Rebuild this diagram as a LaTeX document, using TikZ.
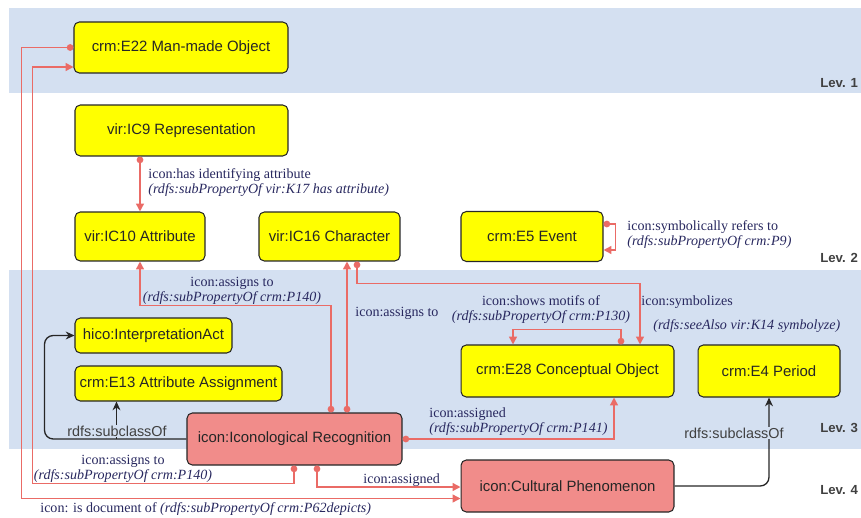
\documentclass[tikz,border=0pt]{standalone}
\usepackage{fontspec}
\setmainfont{Liberation Sans}
\newfontfamily\relfont{Liberation Serif}
\usetikzlibrary{arrows.meta,calc}

\definecolor{bandblue}{RGB}{212,224,241}
\definecolor{relred}{RGB}{234,107,102}
\definecolor{actpink}{RGB}{241,140,138}
\definecolor{clsyellow}{RGB}{255,255,0}
\definecolor{reltext}{RGB}{40,40,95}

\tikzset{
  cls/.style={draw=black!85, fill=clsyellow, rounded corners=3pt, line width=0.6pt,
    font=\fontsize{8.5}{10}\selectfont, text=black!85, inner sep=0pt},
  act/.style={cls, fill=actpink},
  rel/.style={draw=relred, line width=0.85pt,
    {Circle[length=3.8pt]}-{Triangle[length=4.5pt,width=4.5pt]}},
  sub/.style={draw=black!85, line width=0.75pt, rounded corners=5pt,
    -{Stealth[length=5pt,width=4.5pt]}},
  reltxt/.style={font=\relfont\fontsize{8}{8.6}\selectfont, text=reltext, inner sep=0pt},
  subtxt/.style={font=\fontsize{8.2}{9}\selectfont, text=black!75, fill=bandblue, inner sep=0.5pt},
  lev/.style={font=\bfseries\fontsize{7.5}{9}\selectfont, text=black!75, anchor=west, inner sep=0pt}
}

\begin{document}
\begin{tikzpicture}[x=0.02cm, y=-0.02cm]
  \clip (0,0) rectangle (861,517);
  \fill[bandblue] (9,8) rectangle (861,93);
  \fill[bandblue] (9,270) rectangle (861,449);

  \node[lev] (lev1) at (820,83) {Lev. 1};
  \node[lev] (lev2) at (820,258) {Lev. 2};
  \node[lev] (lev3) at (820,428) {Lev. 3};
  \node[lev] (lev4) at (820,490) {Lev. 4};

  \node[cls, minimum width=4.28cm, minimum height=1.02cm] (e22) at (181,47.5) {crm:E22 Man-made Object};
  \node[cls, minimum width=4.26cm, minimum height=1.02cm] (ic9) at (181.5,130.5) {vir:IC9 Representation};
  \node[cls, minimum width=2.6cm, minimum height=0.98cm] (ic10) at (140,236.5) {vir:IC10 Attribute};
  \node[cls, minimum width=2.82cm, minimum height=0.98cm] (ic16) at (329.5,236.5) {vir:IC16 Character};
  \node[cls, minimum width=2.84cm, minimum height=1.0cm] (e5) at (532,236.5) {crm:E5 Event};
  \node[cls, minimum width=3.14cm, minimum height=0.7cm] (hico) at (153.5,335.5) {hico:InterpretationAct};
  \node[cls, minimum width=4.14cm, minimum height=0.7cm] (e13) at (178.5,383.5) {crm:E13 Attribute Assignment};
  \node[cls, minimum width=4.26cm, minimum height=1.04cm] (e28) at (567.5,371) {crm:E28 Conceptual Object};
  \node[cls, minimum width=2.84cm, minimum height=1.04cm] (e4) at (769,371) {crm:E4 Period};
  \node[act, minimum width=4.3cm, minimum height=1.04cm] (rec) at (294.5,439) {icon:Iconological Recognition};
  \node[act, minimum width=4.26cm, minimum height=1.04cm] (cp) at (567.5,486) {icon:Cultural Phenomenon};

  \draw[rel] (ic9.south -| ic10.north) -- (ic10.north);
  \draw[rel] ($(e5.east)+(0,-12.5)$) -- ++(12,0) |- ($(e5.east)+(0,13.5)$);
  \draw[rel] ($(rec.north west)+(144.5,0)$) -- ++(0,-107) -| (ic10.south);
  \draw[rel] ($(rec.north west)+(160.5,0)$) coordinate (r2) -- (r2 |- ic16.south);
  \draw[rel] ($(ic16.south)+(27.5,0)$) -- ++(0,22) -| ($(e28.north)+(72.5,0)$);
  \draw[rel] ($(e28.north)+(53.5,0)$) -- ++(0,-15) -| ($(e28.north)+(-54.5,0)$);
  \draw[rel] (rec.east) -| ($(e28.south)+(46.5,0)$);
  \draw[rel] ($(rec.south west)+(107.5,0)$) -- ++(0,18) -| ($(e22.west)+(-41,19.5)$) -- ($(e22.west)+(0,19.5)$);
  \draw[rel] ($(rec.south west)+(130.5,0)$) |- ($(cp.west)+(0,1)$);
  \draw[rel] (e22.west) -- ++(-52,0) |- ($(cp.west)+(0,12.5)$);

  \path ($(e13.south west)+(42,0)$) coordinate (e13in);
  \draw[sub] (rec.west) -| ($(hico.west)+(-30,0)$) -- (hico.west);
  \draw[sub] (e13in |- rec.west) -- (e13in);
  \draw[sub] (cp.east) -| (e4.south);

  \node[reltxt, anchor=west, align=left] (lattr) at (148,183) {icon:has identifying attribute\\\textit{(rdfs:subPropertyOf vir:K17 has attribute)}};
  \node[reltxt, anchor=west, align=left] (lrefers) at (627,235) {icon:symbolically refers to\\\textit{(rdfs:subPropertyOf crm:P9)}};
  \node[reltxt, align=center] (lassign1) at (232,291) {icon:assigns to\\\textit{(rdfs:subPropertyOf crm:P140)}};
  \node[reltxt, anchor=west] (lassign2) at (355,313) {icon:assigns to};
  \node[reltxt, align=center] (lmotifs) at (541,310) {icon:shows motifs of\\\textit{(rdfs:subPropertyOf crm:P130)}};
  \node[reltxt, anchor=west] (lsymb) at (641,302) {icon:symbolizes};
  \node[reltxt, anchor=west] (lseealso) at (653,326) {\textit{(rdfs:seeAlso vir:K14 symbolyze)}};
  \node[reltxt, anchor=west, align=left] (lassigned1) at (429,422) {icon:assigned\\\textit{(rdfs:subPropertyOf crm:P141)}};
  \node[reltxt, align=center] (lassign3) at (123,469) {icon:assigns to\\\textit{(rdfs:subPropertyOf crm:P140)}};
  \node[reltxt, anchor=west] (lassigned2) at (363,480) {icon:assigned};
  \node[reltxt, anchor=west] (ldoc) at (40,509) {icon: is document of \textit{(rdfs:subPropertyOf crm:P62depicts)}};
  \node[subtxt] (lsub1) at (117,431) {rdfs:subclassOf};
  \node[subtxt] (lsub2) at (734,433) {rdfs:subclassOf};
\end{tikzpicture}
\end{document}
